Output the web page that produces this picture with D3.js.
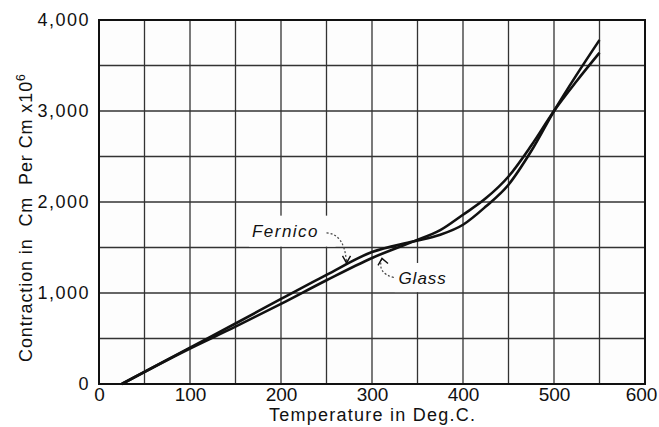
<!DOCTYPE html>
<html>
<head>
<meta charset="utf-8">
<script src="https://cdn.jsdelivr.net/npm/d3@7"></script>
<style>
  body { margin: 0; background: #fff; }
  svg text { font-family: "Liberation Sans", "DejaVu Sans", sans-serif; fill: #111; }
</style>
</head>
<body>
<div id="chart"></div>
<script>
// values
var temps   = [25, 100, 150, 200, 250, 300, 345, 375, 400, 425, 450, 475, 500, 525, 550];
var fernico = [0, 400, 665, 935, 1200, 1450, 1565, 1640, 1750, 1950, 2190, 2560, 3000, 3400, 3780];
var glass   = [0, 390, 630, 880, 1140, 1385, 1565, 1690, 1860, 2040, 2280, 2620, 3000, 3330, 3640];
var xTicks = [0, 100, 200, 300, 400, 500, 600];
var yTicks = [0, 1000, 2000, 3000, 4000];

var W = 659, H = 427;
var margin = {top: 20, right: 14, bottom: 43, left: 99},
    width = W - margin.left - margin.right,
    height = H - margin.top - margin.bottom;

var x = d3.scaleLinear().domain([0, 600]).range([0, width]);
var y = d3.scaleLinear().domain([0, 4000]).range([height, 0]);

var svg = d3.select("#chart").append("svg")
    .attr("width", W)
    .attr("height", H);

var g = svg.append("g")
    .attr("transform", "translate(" + margin.left + "," + margin.top + ")");

g.append("rect")
    .attr("width", width).attr("height", height)
    .attr("fill", "#fdfdfd");

// grid every 50 deg and every 500
g.append("g")
  .selectAll("line.v")
  .data(d3.range(50, 600, 50))
  .enter().append("line")
    .attr("x1", function(d) { return x(d); })
    .attr("x2", function(d) { return x(d); })
    .attr("y1", 0).attr("y2", height)
    .attr("stroke", "#333").attr("stroke-width", 1.3);

g.append("g")
  .selectAll("line.h")
  .data(d3.range(500, 4000, 500))
  .enter().append("line")
    .attr("y1", function(d) { return y(d); })
    .attr("y2", function(d) { return y(d); })
    .attr("x1", 0).attr("x2", width)
    .attr("stroke", "#333").attr("stroke-width", 1.3);

// frame
g.append("rect")
    .attr("width", width).attr("height", height)
    .attr("fill", "none").attr("stroke", "#111").attr("stroke-width", 2);

// tick labels
var xAxis = g.append("g")
    .attr("transform", "translate(0," + height + ")")
    .call(d3.axisBottom(x).tickValues(xTicks).tickSize(0).tickPadding(4));
xAxis.select(".domain").remove();
xAxis.selectAll("text")
    .style("font-size", "19px").attr("fill", "#111")
    .attr("dx", function(d) { return d === 600 ? -4 : 0; });

var yAxis = g.append("g")
    .call(d3.axisLeft(y).tickValues(yTicks).tickSize(0).tickPadding(9)
      .tickFormat(d3.format(",")));
yAxis.select(".domain").remove();
yAxis.selectAll("text")
    .style("font-size", "18px").attr("letter-spacing", "1.5px").attr("fill", "#111");

// curves
var line = d3.line()
    .x(function(d) { return x(d[0]); })
    .y(function(d) { return y(d[1]); })
    .curve(d3.curveMonotoneX);

[fernico, glass].forEach(function(series) {
  g.append("path")
      .datum(temps.map(function(t, i) { return [t, series[i]]; }))
      .attr("fill", "none")
      .attr("stroke", "#111")
      .attr("stroke-width", 2.6)
      .attr("d", line);
});

// labels with arrows, grid cut away behind them
g.append("rect")
    .attr("x", x(165)).attr("y", y(1850)).attr("width", x(260) - x(165)).attr("height", y(1510) - y(1850))
    .attr("fill", "#fdfdfd");
g.append("rect")
    .attr("x", x(325)).attr("y", y(1330)).attr("width", x(385) - x(325)).attr("height", y(1010) - y(1330))
    .attr("fill", "#fdfdfd");

g.append("text")
    .attr("x", x(168)).attr("y", y(1610))
    .style("font-size", "17px").style("font-style", "italic")
    .attr("letter-spacing", "1.5px")
    .text("Fernico");

g.append("path")
    .attr("d", "M" + x(250) + "," + y(1660) + " Q" + x(270) + "," + y(1650) + " " + x(272) + "," + y(1330))
    .attr("fill", "none").attr("stroke", "#444").attr("stroke-width", 1.2)
    .attr("stroke-dasharray", "2,2");
g.append("path")
    .attr("d", "M" + (x(272) - 4) + "," + (y(1330) - 7) + " L" + x(272) + "," + y(1330) + " L" + (x(272) + 4) + "," + (y(1330) - 7))
    .attr("fill", "none").attr("stroke", "#111").attr("stroke-width", 1.4);

g.append("text")
    .attr("x", x(329)).attr("y", y(1095))
    .style("font-size", "17px").style("font-style", "italic")
    .attr("letter-spacing", "1px")
    .text("Glass");

g.append("path")
    .attr("d", "M" + x(324) + "," + y(1170) + " Q" + x(305) + "," + y(1220) + " " + x(311) + "," + y(1380))
    .attr("fill", "none").attr("stroke", "#444").attr("stroke-width", 1.2)
    .attr("stroke-dasharray", "2,2");
g.append("path")
    .attr("d", "M" + (x(311) - 4) + "," + (y(1380) + 7) + " L" + x(311) + "," + y(1380) + " L" + (x(311) + 6) + "," + (y(1380) + 5))
    .attr("fill", "none").attr("stroke", "#111").attr("stroke-width", 1.4);

// axis titles
svg.append("text")
    .attr("x", margin.left + x(300)).attr("y", 421)
    .attr("text-anchor", "middle")
    .style("font-size", "18px")
    .attr("textLength", 206).attr("lengthAdjust", "spacing")
    .text("Temperature in Deg.C.");

var yt = svg.append("text")
    .attr("transform", "translate(32,362) rotate(-90)")
    .style("font-size", "18px")
    .style("white-space", "pre")
    .attr("letter-spacing", "0.9px");
yt.append("tspan").text("Contraction in  Cm  Per Cm x10");
yt.append("tspan").attr("dy", -7).style("font-size", "12px").text("6");
</script>
</body>
</html>
